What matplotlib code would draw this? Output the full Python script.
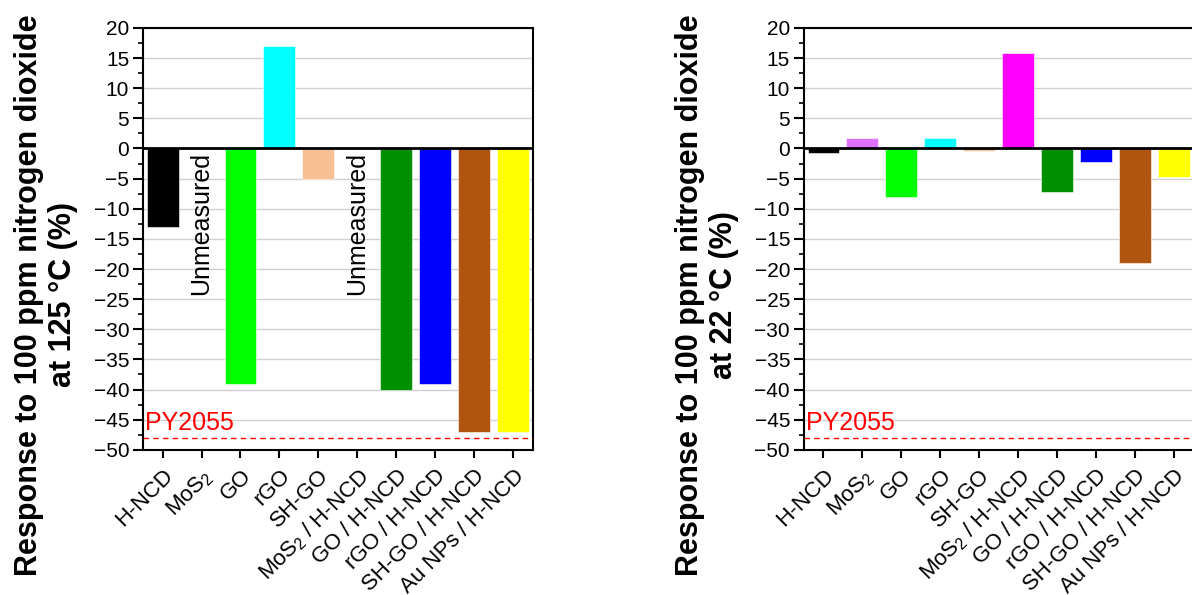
import numpy as np
import matplotlib
matplotlib.use("Agg")
import matplotlib.pyplot as plt
from matplotlib.ticker import MultipleLocator

plt.rcParams["font.family"] = ["Liberation Sans", "DejaVu Sans"]
plt.rcParams["mathtext.fontset"] = "custom"
plt.rcParams["mathtext.rm"] = "Liberation Sans"
plt.rcParams["mathtext.it"] = "Liberation Sans:italic"

# sensor materials, same order on both panels
materials = ["H-NCD", r"MoS$_2$", "GO", "rGO", "SH-GO",
             r"MoS$_2$ / H-NCD", "GO / H-NCD", "rGO / H-NCD",
             "SH-GO / H-NCD", "Au NPs / H-NCD"]
bar_colors = ["#000000", "#E070FF", "#00FF00", "#00FFFF", "#F7C094",
              "#FF00FF", "#008F00", "#0000FF", "#B05510", "#FFFF00"]

# response (%) to 100 ppm NO2; None = unmeasured
resp_125C = [-13, None, -39, 17, -5, None, -40, -39, -47, -47]
resp_22C = [-0.8, 1.8, -8, 1.8, -0.4, 15.8, -7.2, -2.3, -19, -4.8]

ref_name = "PY2055"
ref_level = -48


def draw_panel(ax, values, temp_label):
    x = np.arange(len(materials))
    for i, v in enumerate(values):
        if v is None:
            ax.text(i, -0.5, "Unmeasured", rotation=90, ha="center", va="top",
                    fontsize=18)
        else:
            ax.bar(i, v, width=0.82, color=bar_colors[i], edgecolor="white",
                   linewidth=0.4, zorder=2)

    ax.axhline(0, color="black", lw=2, zorder=4)
    ax.axhline(ref_level, color="red", lw=1, ls=(0, (4, 3)), zorder=3)
    ax.text(-0.45, ref_level + 0.5, ref_name, color="red", fontsize=18,
            ha="left", va="bottom")

    ax.set_xlim(-0.5, len(materials) - 0.5)
    ax.set_ylim(-50, 20)
    ax.yaxis.set_major_locator(MultipleLocator(5))
    ax.yaxis.set_minor_locator(MultipleLocator(2.5))
    ax.grid(axis="y", which="major", color="#d0d0d0", lw=1, zorder=0)
    ax.set_axisbelow(True)

    ax.set_xticks(x)
    ax.set_xticklabels(materials, rotation=45, ha="right",
                       rotation_mode="anchor", fontsize=16)
    ax.tick_params(axis="x", length=6, width=1.5, pad=5)
    ax.tick_params(axis="y", which="major", length=7, width=1.5,
                   labelsize=15, pad=3)
    ax.tick_params(axis="y", which="minor", length=3.5, width=1.2)
    for s in ax.spines.values():
        s.set_linewidth(1.5)

    ax.set_ylabel("Response to 100 ppm nitrogen dioxide\nat %s (%%)" % temp_label,
                  fontsize=22, fontweight="bold", va="center")
    ax.yaxis.set_label_coords(-0.249, 0.367)


fig = plt.figure(figsize=(11.92, 5.95), dpi=100)
ax1 = fig.add_axes([0.120, 0.244, 0.327, 0.709])
ax2 = fig.add_axes([0.6745, 0.244, 0.327, 0.709])

draw_panel(ax1, resp_125C, "125 °C")
draw_panel(ax2, resp_22C, "22 °C")

fig.savefig("out.png", dpi=100)
